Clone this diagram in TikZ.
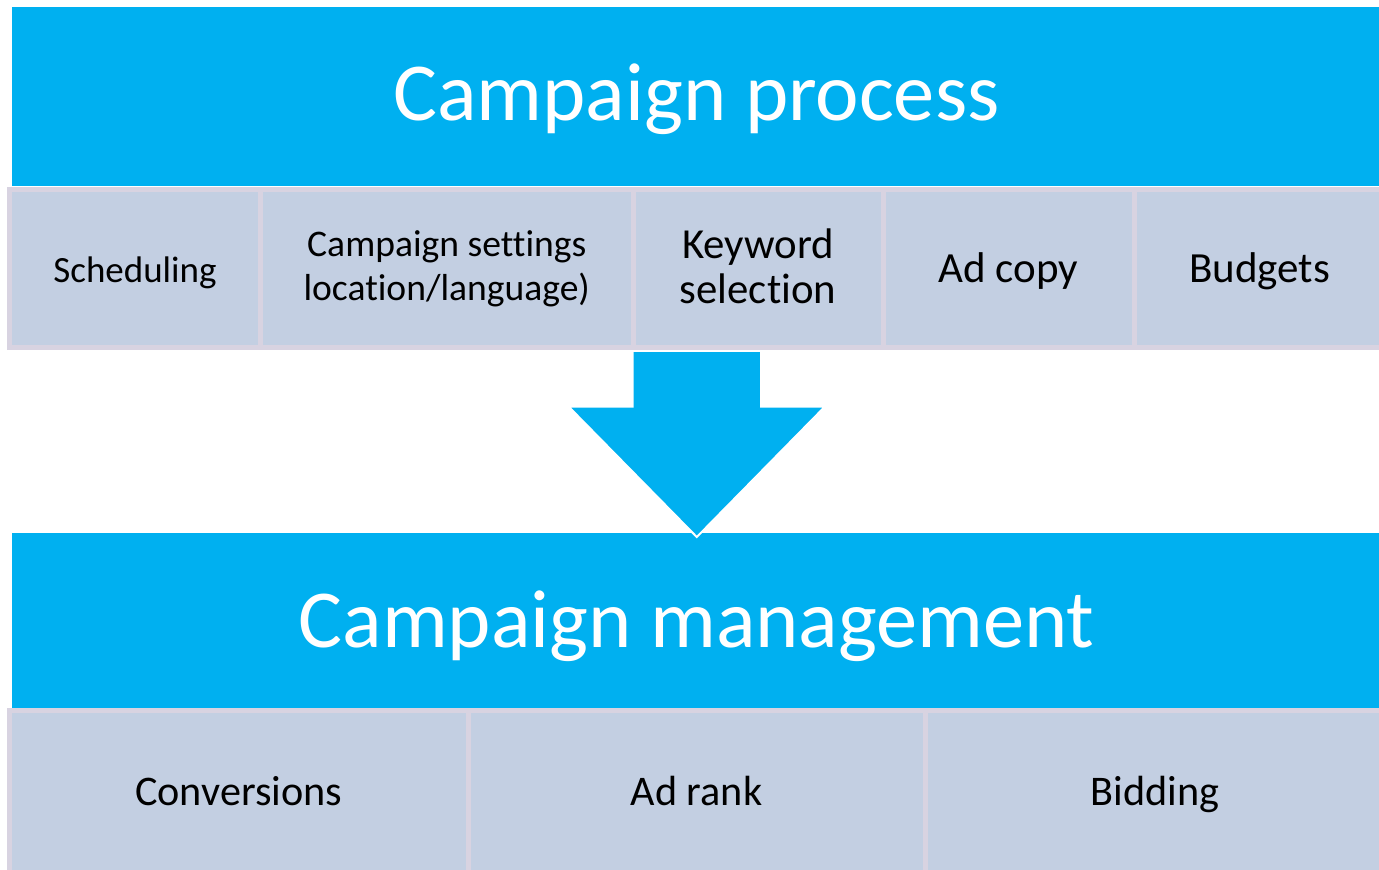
\documentclass[tikz,border=0pt]{standalone}
\usepackage{fontspec}
\setmainfont[Ligatures=NoCommon]{Carlito}
\definecolor{barblue}{HTML}{00B0F0}
\definecolor{cellfill}{HTML}{C3CFE2}
\definecolor{cellline}{HTML}{D8D3E1}
\begin{document}
\begin{tikzpicture}[x=0.5pt,y=-0.5pt,
  bar/.style={fill=barblue,draw=none,inner sep=0pt,text=white,
    font=\fontsize{41.2}{49}\selectfont,minimum width=684.5pt},
  cellbox/.style={fill=cellfill,draw=cellline,line width=2.5pt,inner sep=0pt,
    align=center,text=black},
  toprow/.style={cellbox,minimum height=79pt},
  oneline/.style={text height=13.5pt,text depth=0pt},
  botrow/.style={cellbox,minimum height=80.75pt,font=\fontsize{21.1}{25}\selectfont,
    text height=14.5pt,text depth=0pt},
  downarrow/.style={fill=barblue,draw=white,line width=1pt,line join=miter}]
\useasboundingbox (0,0) rectangle (1379,869);
\begin{scope}
\clip (0,0) rectangle (1379,869);
% header bars
\node[bar,minimum height=89.5pt,text height=29pt,text depth=5.5pt] (process) at (696.5,96.5) {Campaign process};
\node[bar,minimum height=87.5pt,text height=30pt,text depth=3.5pt] (management) at (696.5,620.5) {Campaign management};
% first row of steps
\node[toprow,oneline,minimum width=125.5pt,font=\fontsize{18.5}{24}\selectfont] (sched) at (135,268.5) {Scheduling};
\node[toprow,minimum width=186.25pt,font=\fontsize{18.8}{22}\selectfont] (settings) at (446.75,268.5) {Campaign settings\\location/language)};
\node[toprow,minimum width=125pt,font=\fontsize{21.4}{22.5}\selectfont,text depth=2.5pt] (keyword) at (758,268.5) {Keyword\\selection};
\node[toprow,oneline,minimum width=125.5pt,font=\fontsize{21.5}{25}\selectfont] (adcopy) at (1008.5,268.5) {Ad copy};
\node[toprow,oneline,minimum width=125.5pt,font=\fontsize{21.5}{25}\selectfont] (budgets) at (1259.5,268.5) {Budgets};
% second row
\node[botrow,minimum width=229.25pt] (conv) at (238.75,791.25) {Conversions};
\node[botrow,minimum width=228.5pt] (adrank) at (696.5,791.25) {Ad rank};
\node[botrow,minimum width=230pt] (bidding) at (1155,791.25) {Bidding};
\end{scope}
% block arrow from the steps down to management
\coordinate (shaftL) at (632.7,352);
\coordinate (shaftR) at (761,352);
\coordinate (tip) at (696.8,537);
\filldraw[downarrow] (shaftL) -- (632.7,406.5) -- (568.5,406.5) -- (tip)
  -- (825,406.5) -- (761,406.5) -- (shaftR);
\end{tikzpicture}
\end{document}
